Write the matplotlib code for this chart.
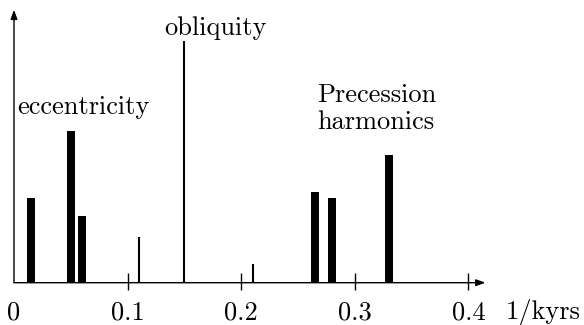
import numpy as np
import matplotlib
matplotlib.use("Agg")
import matplotlib.pyplot as plt

plt.rcParams['font.family'] = ['cmr10', 'DejaVu Serif']
plt.rcParams['mathtext.fontset'] = 'cm'

# spectral peaks: frequency (1/kyrs) and relative amplitude
wide_freq = [0.015, 0.050, 0.060, 0.265, 0.280, 0.330]
wide_amp = [85, 152, 67, 91, 85, 128]
thin_freq = [0.110, 0.150, 0.210]
thin_amp = [46, 242, 19]
tick_vals = [0.1, 0.2, 0.3, 0.4]
tick_labels = ["0", "0.1", "0.2", "0.3", "0.4"]

fig = plt.figure(figsize=(5.84, 3.25), dpi=100)
ax = fig.add_axes([0, 0, 1, 1])
ax.set_xlim(-14 / 1136, 570 / 1136)
ax.set_ylim(-42.3, 282.7)
ax.axis('off')

# axes with arrows
ax.annotate('', xy=(0.415, 0), xytext=(0, 0),
            arrowprops=dict(arrowstyle='-|>,head_length=0.55,head_width=0.2',
                            color='black', lw=1.0, shrinkA=0, shrinkB=0))
ax.annotate('', xy=(0, 273), xytext=(0, 0),
            arrowprops=dict(arrowstyle='-|>,head_length=0.55,head_width=0.2',
                            color='black', lw=1.0, shrinkA=0, shrinkB=0))
ax.vlines(tick_vals, -7.3, 9.7, color='black', lw=1.0)

ax.bar(wide_freq, wide_amp, width=0.0068, color='black', align='center')
ax.vlines(thin_freq, 0, thin_amp, color='black', lw=1.5)

fs = 19
for v, lab in zip([0] + tick_vals, tick_labels):
    ax.text(v, -30, lab, ha='center', va='center', fontsize=fs)
ax.text(0.4657, -30, "1/kyrs", ha='center', va='center', fontsize=fs)

ax.text(0.0026, 175.5, "eccentricity", ha='left', va='center', fontsize=fs)
ax.text(0.1778, 254.5, "obliquity", ha='center', va='center', fontsize=fs)
ax.text(0.2665, 174, "Precession\nharmonics", ha='left', va='center',
        fontsize=fs, linespacing=1.18)

fig.savefig('out.png', dpi=100)
